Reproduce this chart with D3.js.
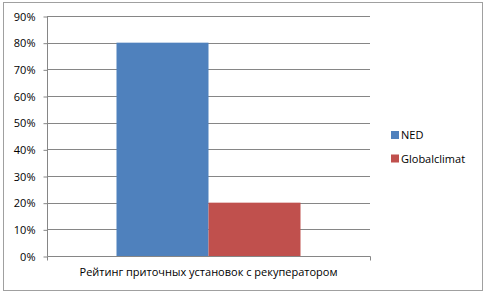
<!DOCTYPE html>
<html>
<head>
<meta charset="utf-8">
<script src="https://cdn.jsdelivr.net/npm/d3@7"></script>
<style>
  body { margin: 0; background: #fff; }
  svg { display: block; font-family: "Open Sans", "Liberation Sans", sans-serif; }
</style>
</head>
<body>
<svg width="486" height="293"></svg>
<script>
// chart data
const category = "Рейтинг приточных установок с рекуператором";
const seriesNames = ["NED", "Globalclimat"];
const seriesValues = [0.8, 0.2];
const seriesColors = ["#4f81bd", "#c0504d"];
const yTicks = [0, 0.1, 0.2, 0.3, 0.4, 0.5, 0.6, 0.7, 0.8, 0.9];

const svg = d3.select("svg");

// outer frame
svg.append("rect")
  .attr("x", 3.5).attr("y", 2.5)
  .attr("width", 479).attr("height", 288)
  .attr("fill", "#fff")
  .attr("stroke", "#a0a0a0");

const plot = {left: 47, right: 370, top: 16, bottom: 256};

const y = d3.scaleLinear().domain([0, 0.9]).range([plot.bottom, plot.top]);
const x0 = d3.scaleBand().domain([category]).range([plot.left, plot.right]).paddingInner(0).paddingOuter(0);
// bars take ~57% of the band, gap split on both sides
const x1 = d3.scaleBand().domain(seriesNames)
  .range([x0(category) + 69.5, x0(category) + x0.bandwidth() - 69.5]);

// gridlines
svg.append("g")
  .selectAll("line")
  .data(yTicks.slice(1))
  .join("line")
  .attr("x1", plot.left).attr("x2", plot.right)
  .attr("y1", d => Math.round(y(d)) + 0.5).attr("y2", d => Math.round(y(d)) + 0.5)
  .attr("stroke", "#868686");

// bars
svg.append("g")
  .selectAll("rect")
  .data(seriesNames)
  .join("rect")
  .attr("x", d => x1(d))
  .attr("width", x1.bandwidth())
  .attr("y", (d, i) => y(seriesValues[i]))
  .attr("height", (d, i) => y(0) - y(seriesValues[i]))
  .attr("fill", (d, i) => seriesColors[i]);

// y axis
const yAxis = d3.axisLeft(y)
  .tickValues(yTicks)
  .tickFormat(d3.format(".0%"))
  .tickSize(4)
  .tickPadding(8);

const gy = svg.append("g")
  .attr("transform", `translate(${plot.left + 0.5},0.5)`)
  .call(yAxis);
gy.select(".domain").attr("stroke", "#868686").attr("d", `M0,${plot.top}V${plot.bottom}`);
gy.selectAll(".tick line").attr("stroke", "#868686");
gy.selectAll(".tick text")
  .attr("font-size", 11)
  .attr("font-family", "Open Sans, sans-serif")
  .attr("fill", "#000");

// x axis
const xAxis = d3.axisBottom(x0).tickSize(0).tickPadding(12);
const gx = svg.append("g")
  .attr("transform", `translate(0,${plot.bottom + 0.5})`)
  .call(xAxis);
gx.select(".domain").attr("stroke", "#868686")
  .attr("d", `M${plot.left + 0.5},4V0H${plot.right + 0.5}V4`);
gx.selectAll(".tick text")
  .attr("font-size", 11)
  .attr("font-family", "Open Sans, sans-serif")
  .attr("fill", "#000");

// legend
const legend = svg.append("g")
  .selectAll("g")
  .data(seriesNames)
  .join("g")
  .attr("transform", (d, i) => `translate(391,${131 + i * 23.5})`);

legend.append("rect")
  .attr("width", 8).attr("height", 8)
  .attr("fill", (d, i) => seriesColors[i]);

legend.append("text")
  .attr("x", 10).attr("y", 8)
  .attr("font-size", 11)
  .text(d => d);
</script>
</body>
</html>
